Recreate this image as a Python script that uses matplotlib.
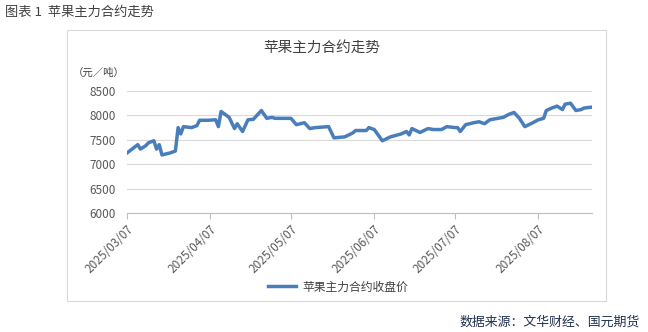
import matplotlib
matplotlib.use('Agg')
import matplotlib.pyplot as plt
import matplotlib.dates as mdates
from matplotlib.patches import Rectangle
import pandas as pd

plt.rcParams['font.family'] = ['Noto Sans CJK SC', 'DejaVu Sans']

# ── Data ──────────────────────────────────────────────────────
dates = [
    '2025-03-07', '2025-03-11', '2025-03-12', '2025-03-14', '2025-03-15',
    '2025-03-17', '2025-03-18', '2025-03-19', '2025-03-20', '2025-03-23',
    '2025-03-25', '2025-03-26', '2025-03-27', '2025-03-28', '2025-03-31',
    '2025-04-02', '2025-04-03', '2025-04-06', '2025-04-09', '2025-04-10',
    '2025-04-11', '2025-04-14', '2025-04-16', '2025-04-17', '2025-04-19',
    '2025-04-21', '2025-04-23', '2025-04-26', '2025-04-28', '2025-04-30',
    '2025-05-01', '2025-05-07', '2025-05-09', '2025-05-12', '2025-05-14',
    '2025-05-16', '2025-05-21', '2025-05-23', '2025-05-27', '2025-05-30',
    '2025-05-31', '2025-06-04', '2025-06-05', '2025-06-07', '2025-06-10',
    '2025-06-13', '2025-06-17', '2025-06-19', '2025-06-20', '2025-06-21',
    '2025-06-24', '2025-06-27', '2025-06-29', '2025-07-02', '2025-07-04',
    '2025-07-07', '2025-07-08', '2025-07-09', '2025-07-11', '2025-07-14',
    '2025-07-16', '2025-07-18', '2025-07-20', '2025-07-25', '2025-07-27',
    '2025-07-29', '2025-07-31', '2025-08-02', '2025-08-05', '2025-08-07',
    '2025-08-09', '2025-08-10', '2025-08-12', '2025-08-14', '2025-08-16',
    '2025-08-17', '2025-08-19', '2025-08-21', '2025-08-23', '2025-08-24',
    '2025-08-27',
]
prices = [
    7230, 7400, 7310, 7380, 7440,
    7480, 7310, 7400, 7190, 7230,
    7270, 7750, 7620, 7770, 7750,
    7790, 7900, 7900, 7910, 7770,
    8080, 7960, 7730, 7830, 7670,
    7910, 7920, 8100, 7940, 7960,
    7940, 7940, 7810, 7850, 7730,
    7750, 7770, 7540, 7560, 7640,
    7690, 7690, 7750, 7710, 7480,
    7560, 7620, 7670, 7600, 7730,
    7650, 7730, 7710, 7710, 7770,
    7750, 7750, 7670, 7810, 7850,
    7870, 7830, 7910, 7960, 8020,
    8060, 7940, 7770, 7850, 7910,
    7940, 8100, 8150, 8190, 8120,
    8230, 8250, 8100, 8120, 8150,
    8170,
]
tick_dates = ['2025-03-07', '2025-04-07', '2025-05-07',
              '2025-06-07', '2025-07-07', '2025-08-07']
y_ticks = [6000, 6500, 7000, 7500, 8000, 8500]

series = pd.Series(prices, index=pd.to_datetime(dates))

# ── Figure ────────────────────────────────────────────────────
W, H = 648, 332
fig = plt.figure(figsize=(W / 100, H / 100), dpi=100)

# outer frame of the chart
fig.patches.append(Rectangle((67 / W, 1 - 301 / H), (606 - 67) / W, (301 - 30) / H,
                             transform=fig.transFigure, fill=False,
                             edgecolor='#d9d9d9', linewidth=0.8))

ax = fig.add_axes([127 / W, 1 - 213 / H, (592 - 127) / W, (213 - 91) / H])
ax.plot(series.index, series.values, color='#4a7ebb', linewidth=2.5,
        solid_joinstyle='round', label='苹果主力合约收盘价')

ax.set_ylim(6000, 8500)
ax.set_yticks(y_ticks)
ax.set_xlim(pd.Timestamp('2025-03-07'), pd.Timestamp('2025-08-27'))
ax.set_xticks(pd.to_datetime(tick_dates))
ax.xaxis.set_major_formatter(mdates.DateFormatter('%Y/%m/%d'))

ax.grid(axis='y', color='#d9d9d9', linewidth=0.8)
ax.set_axisbelow(True)
for s in ['top', 'right', 'left']:
    ax.spines[s].set_visible(False)
ax.spines['bottom'].set_color('#bfbfbf')
ax.spines['bottom'].set_linewidth(0.8)

ax.tick_params(axis='y', length=0, labelsize=8.5, labelcolor='#595959', pad=8)
ax.tick_params(axis='x', length=4, color='#bfbfbf', labelsize=8.5,
               labelcolor='#595959', pad=3)
for lbl in ax.get_xticklabels():
    lbl.set_rotation(45)
    lbl.set_ha('right')
    lbl.set_va('top')
    lbl.set_rotation_mode('anchor')

# texts
fig.text(5 / W, 1 - 12 / H, '图表 1  苹果主力合约走势', fontsize=9.5,
         color='#404040', va='center', ha='left')
fig.text(322 / W, 1 - 48 / H, '苹果主力合约走势', fontsize=10.5,
         color='#404040', va='center', ha='center')
fig.text(73 / W, 1 - 73 / H, '（元／吨）', fontsize=7.5,
         color='#404040', va='center', ha='left')
fig.text(640 / W, 1 - 322 / H, '数据来源：文华财经、国元期货', fontsize=9.3,
         color='#1f3050', va='center', ha='right')

fig.legend(loc='center', bbox_to_anchor=(338 / W, 1 - 287 / H), frameon=False,
           fontsize=8.5, handlelength=2.4, handletextpad=0.5, labelcolor='#404040')

plt.savefig('out.png', dpi=100)
